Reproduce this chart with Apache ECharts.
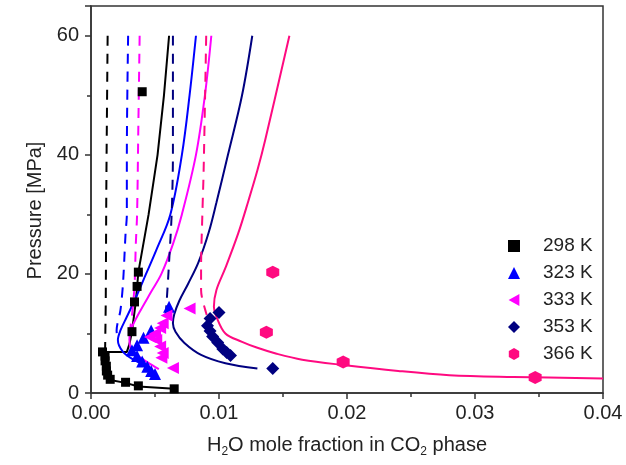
<!DOCTYPE html>
<html lang="en">
<head>
  <meta charset="UTF-8">
  <title>H2O in CO2</title>
  <script src="https://cdn.jsdelivr.net/npm/echarts@6.0.0/dist/echarts.min.js"></script>
  <style>
    html, body { margin: 0; padding: 0; background: #fff; }
  </style>
</head>
<body>
  <div id="app" style="width: 626px; height: 465px;"></div>
  <script>
    // experimental points [x H2O, P MPa]
    var pts298 = [[0.0009, 6.9], [0.0011, 6.2], [0.0011, 5.4], [0.0012, 4.5], [0.0012, 3.7], [0.0013, 3.0],
      [0.0015, 2.3], [0.0027, 1.8], [0.0037, 1.2], [0.0065, 0.7], [0.0032, 10.3], [0.0034, 15.3],
      [0.0036, 17.9], [0.0037, 20.3], [0.0040, 50.6]]
    var pts323 = [[0.0061, 14.5], [0.0047, 10.5], [0.0041, 9.3], [0.0036, 8.0], [0.0032, 7.2], [0.0036, 6.2],
      [0.0040, 5.3], [0.0044, 4.4], [0.0047, 3.7], [0.0050, 3.2]]
    var pts333 = [[0.0077, 14.2], [0.0059, 13.0], [0.0056, 11.7], [0.0054, 10.9], [0.0050, 10.0], [0.0046, 9.4],
      [0.0051, 8.9], [0.0054, 7.8], [0.0056, 6.7], [0.0055, 5.9], [0.0064, 4.2]]
    var pts353 = [[0.0100, 13.5], [0.0093, 12.5], [0.0091, 11.3], [0.0093, 10.4], [0.0095, 9.5], [0.0099, 8.5],
      [0.0103, 7.4], [0.0106, 6.8], [0.0109, 6.3], [0.0142, 4.1]]
    var pts366 = [[0.0142, 20.3], [0.0137, 10.2], [0.0197, 5.2], [0.0347, 2.6]]

    // model curves, solid
    var solid298 = [[0.0061, 60], [0.0057, 50], [0.0052, 40], [0.0045, 30], [0.0037, 20.3], [0.0035, 15.3],
      [0.0032, 10.3], [0.0030, 8.2], [0.0028, 6.9], [0.0011, 6.9], [0.0011, 5.5], [0.0012, 4.2],
      [0.0013, 3.0], [0.0015, 2.2], [0.0027, 1.7], [0.0037, 1.1], [0.0065, 0.7]]
    var solid323 = [[0.0082, 60], [0.0077, 50], [0.0071, 40], [0.0062, 30], [0.0051, 24], [0.0043, 20],
      [0.0035, 16], [0.0028, 12.8], [0.0023, 10.5], [0.0021, 8.9], [0.0025, 6.9], [0.0034, 5.5],
      [0.0045, 4.2], [0.0052, 2.8]]
    var solid333 = [[0.0094, 60], [0.0089, 50], [0.0082, 40], [0.0071, 30], [0.0064, 25], [0.0055, 20],
      [0.0047, 17], [0.0039, 14], [0.0034, 12], [0.0031, 10.5], [0.0030, 9], [0.0031, 7.5],
      [0.0035, 6.5], [0.0044, 5.2], [0.0053, 4.0]]
    var solid353 = [[0.0126, 60], [0.0118, 50], [0.0107, 40], [0.0098, 32], [0.0092, 27], [0.0084, 22],
      [0.0076, 18.4], [0.0069, 15.5], [0.0065, 13.2], [0.0064, 11.7], [0.0066, 10.3], [0.0073, 8.4],
      [0.0086, 6.4], [0.0105, 5.0], [0.0130, 4.1]]
    var solid366 = [[0.0155, 60], [0.0136, 42.4], [0.0130, 37.4], [0.0123, 32.3], [0.0115, 26.8], [0.0105, 21],
      [0.0098, 17.3], [0.0096, 14.5], [0.0098, 12.8], [0.0105, 10], [0.0118, 8.6], [0.0130, 7.6],
      [0.0145, 6.6], [0.0165, 5.6], [0.0197, 4.7], [0.0240, 3.7], [0.0280, 3.0], [0.0330, 2.7], [0.0400, 2.45]]

    // model curves, dashed
    var dash298 = [[0.0013, 60], [0.0012, 35], [0.00115, 15], [0.0011, 7]]
    var dash323 = [[0.0029, 60], [0.0028, 40], [0.0028, 30], [0.0027, 26.8], [0.0025, 18.4], [0.0023, 13.9],
      [0.0020, 10.5], [0.0021, 8.8]]
    var dash333 = [[0.0038, 60], [0.0037, 45], [0.0036, 30], [0.0035, 25], [0.0034, 18], [0.0032, 13], [0.0030, 10]]
    var dash353 = [[0.0064, 60], [0.0064, 40], [0.0063, 30], [0.0061, 22], [0.0059, 15], [0.0058, 12.5]]
    var dash366 = [[0.0090, 60], [0.0088, 37.4], [0.0087, 30], [0.0086, 21], [0.0086, 17.3], [0.0090, 13.4],
      [0.0094, 11.1]]

    var names = ['298 K', '323 K', '333 K', '353 K', '366 K']
    var colors = ['#000000', '#0000ff', '#ff00ff', '#000080', '#ff0a80']

    var hexagon = 'path://M0,-1 L0.866,-0.5 L0.866,0.5 L0,1 L-0.866,0.5 L-0.866,-0.5 Z'
    var leftTri = 'path://M0,5 L9,0 L9,10 Z'
    var symbols = ['rect', 'triangle', leftTri, 'diamond', hexagon]
    var sizes = [9, 12, 12, 13, 13]

    var solids = [solid298, solid323, solid333, solid353, solid366]
    var dashes = [dash298, dash323, dash333, dash353, dash366]
    var points = [pts298, pts323, pts333, pts353, pts366]

    var series = []
    for (var i = 0; i < 5; i++) {
      series.push({
        type: 'line', data: solids[i], showSymbol: false, silent: true,
        smooth: i === 0 ? false : 0.35,
        lineStyle: { color: colors[i], width: 2 }, z: 2
      })
      series.push({
        type: 'line', data: dashes[i], showSymbol: false, silent: true,
        smooth: 0.3,
        lineStyle: { color: colors[i], width: 2, type: [10, 8] }, z: 2
      })
    }
    var legendData = []
    for (var j = 0; j < 5; j++) {
      series.push({
        name: names[j], type: 'scatter', data: points[j],
        symbol: symbols[j], symbolSize: sizes[j],
        itemStyle: { color: colors[j], opacity: 1 }, z: 5
      })
      legendData.push({ name: names[j], icon: symbols[j] })
    }

    var chart = echarts.init(document.getElementById('app'))
    chart.setOption({
      animation: false,
      backgroundColor: '#fff',
      textStyle: { fontFamily: 'Liberation Sans, Arial, sans-serif' },
      grid: { left: 91, right: 23, top: 6, bottom: 72, show: true, borderColor: '#333', borderWidth: 1.5 },
      legend: {
        data: legendData, orient: 'vertical', left: 503, top: 230,
        itemWidth: 12, itemHeight: 12, itemGap: 5,
        textStyle: { fontSize: 19, color: '#222', lineHeight: 22, padding: [0, 0, 0, 18] },
        selectedMode: false
      },
      xAxis: {
        type: 'value', min: 0, max: 0.04, interval: 0.01,
        name: '{n|H}{s|2}{n|O mole fraction in CO}{s|2}{n| phase}',
        nameLocation: 'middle', nameGap: 42,
        nameTextStyle: {
          rich: {
            n: { fontSize: 20, color: '#222', fontFamily: 'Liberation Sans' },
            s: { fontSize: 12, color: '#222', fontFamily: 'Liberation Sans', verticalAlign: 'bottom', padding: [0, 0, -3, 0] }
          }
        },
        axisLine: { lineStyle: { color: '#333', width: 1.5 } },
        axisTick: { show: true, inside: false, length: 6, lineStyle: { color: '#333', width: 1.5 } },
        minorTick: { show: true, splitNumber: 2, length: 4, lineStyle: { color: '#333', width: 1.5 } },
        axisLabel: {
          fontSize: 20, color: '#222', margin: 10,
          formatter: function (v) { return v.toFixed(2) }
        },
        splitLine: { show: false }
      },
      yAxis: {
        type: 'value', min: 0, max: 65, interval: 20,
        name: 'Pressure [MPa]', nameLocation: 'middle', nameGap: 44,
        nameTextStyle: { fontSize: 20, color: '#222', padding: [0, 0, 0, -22] },
        axisLine: { lineStyle: { color: '#333', width: 1.5 } },
        axisTick: { show: true, inside: false, length: 6, lineStyle: { color: '#333', width: 1.5 } },
        minorTick: { show: true, splitNumber: 2, length: 4, lineStyle: { color: '#333', width: 1.5 } },
        axisLabel: {
          fontSize: 20, color: '#222', margin: 12,
          formatter: function (v) { return v % 20 === 0 ? String(v) : '' }
        },
        splitLine: { show: false }
      },
      series: series
    })
  </script>
</body>
</html>
